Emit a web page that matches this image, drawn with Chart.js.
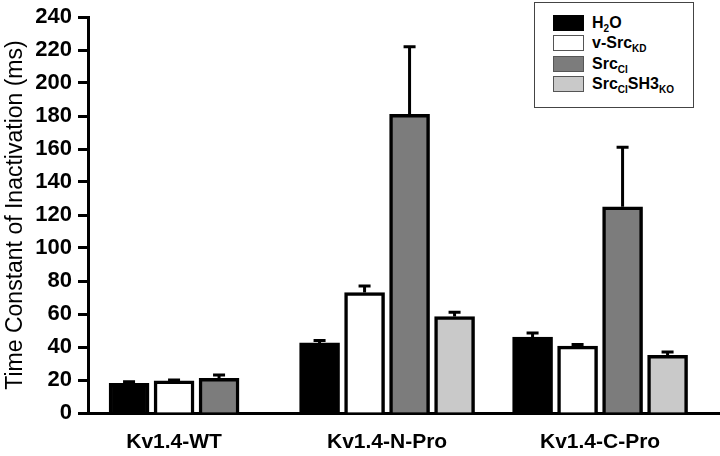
<!DOCTYPE html>
<html>
<head>
<meta charset="utf-8">
<script src="https://cdn.jsdelivr.net/npm/chart.js@4.4.0/dist/chart.umd.min.js"></script>
<style>
  html, body { margin: 0; padding: 0; background: #fff; }
  #wrap { position: relative; width: 720px; height: 456px; }
  #legend {
    position: absolute; left: 534px; top: 2px; width: 160px; height: 106px;
    box-sizing: border-box; border: 1.5px solid #444; background: #fff;
    font: bold 16px "Liberation Sans", Arial, sans-serif; color: #000;
  }
  #legend .item { position: absolute; left: 18px; height: 16px; display: flex; align-items: center; white-space: nowrap; }
  #legend .box { width: 31px; height: 16px; box-sizing: border-box; border: 1.5px solid #555; margin-right: 8px; }
  #legend sub { font-size: 10px; vertical-align: -4px; line-height: 0; }
</style>
</head>
<body>
<div id="wrap">
  <canvas id="myChart" width="720" height="456"></canvas>
  <div id="legend"></div>
</div>
<script>
var categories = ['Kv1.4-WT', 'Kv1.4-N-Pro', 'Kv1.4-C-Pro'];
var seriesNames = ['H2O', 'v-SrcKD', 'SrcCI', 'SrcCISH3KO'];
var legendLabels = ['H<sub>2</sub>O', 'v-Src<sub>KD</sub>', 'Src<sub>CI</sub>', 'Src<sub>CI</sub>SH3<sub>KO</sub>'];

// mean values (ms)
var h2o        = [18, 42.5, 46];
var vSrcKD     = [19.5, 73, 40.5];
var srcCI      = [21, 181, 125];
var srcCISH3KO = [null, 58.5, 35];

// error (upper only)
var h2oErr        = [1, 1.5, 2.5];
var vSrcKDErr     = [0.5, 4, 1];
var srcCIErr      = [2, 41, 36];
var srcCISH3KOErr = [null, 2.5, 2];

var colors = ['#000000', '#ffffff', '#7c7c7c', '#c9c9c9'];
var values = [h2o, vSrcKD, srcCI, srcCISH3KO];
var errors = [h2oErr, vSrcKDErr, srcCIErr, srcCISH3KOErr];

var fontFamily = '"Liberation Sans", Arial, sans-serif';

/* error bars: stem + cap above each bar */
var errorBars = {
  id: 'errorBars',
  afterDatasetsDraw: function (chart) {
    var ctx = chart.ctx;
    var yScale = chart.scales.y;
    ctx.save();
    ctx.strokeStyle = '#000';
    ctx.lineWidth = 3;
    chart.data.datasets.forEach(function (ds, i) {
      chart.getDatasetMeta(i).data.forEach(function (bar, j) {
        var v = ds.data[j].y, e = ds.errors[j];
        if (v == null || e == null) return;
        var top = yScale.getPixelForValue(v + e);
        ctx.beginPath();
        ctx.moveTo(bar.x, bar.y);
        ctx.lineTo(bar.x, top);
        ctx.moveTo(bar.x - 6, top);
        ctx.lineTo(bar.x + 6, top);
        ctx.stroke();
      });
    });
    ctx.restore();
  }
};

var datasets = seriesNames.map(function (name, i) {
  return {
    label: name,
    data: categories.map(function (c, k) { return { x: k, y: values[i][k] }; }),
    errors: errors[i],
    backgroundColor: colors[i],
    borderColor: '#000',
    borderWidth: 3.5,
    barThickness: 45,
    maxBarThickness: 40,
    skipNull: true
  };
});

var ctx = document.getElementById('myChart').getContext('2d');
var myChart = new Chart(ctx, {
  type: 'bar',
  data: { datasets: datasets },
  plugins: [errorBars],
  options: {
    responsive: false,
    animation: false,
    devicePixelRatio: 1,
    layout: { padding: { top: 15, right: 0, bottom: 0, left: 0 } },
    plugins: { legend: { display: false }, tooltip: { enabled: false } },
    scales: {
      x: {
        type: 'linear',
        min: -0.404,
        max: 2.563,
        offset: false,
        grid: { display: false, drawTicks: false },
        border: { color: '#000', width: 3 },
        afterBuildTicks: function (s) { s.ticks = categories.map(function (c, k) { return { value: k }; }); },
        afterFit: function (s) { s.height = 43; },
        ticks: {
          autoSkip: false,
          maxRotation: 0,
          padding: 17,
          color: '#000',
          font: { family: fontFamily, size: 21, weight: 'bold' },
          callback: function (v) { return categories[v] || ''; }
        }
      },
      y: {
        min: 0,
        max: 240,
        grid: { drawOnChartArea: false, drawTicks: true, tickLength: 10, tickWidth: 3, tickColor: '#000' },
        border: { color: '#000', width: 3 },
        afterFit: function (s) { s.width = 88; },
        ticks: {
          stepSize: 20,
          padding: 6,
          color: '#000',
          font: { family: fontFamily, size: 22, weight: 'bold', lineHeight: 1 }
        },
        title: {
          display: true,
          text: 'Time Constant of Inactivation (ms)',
          color: '#000',
          font: { family: fontFamily, size: 23 },
          padding: { top: 2, bottom: 0 }
        }
      }
    }
  }
});

/* legend with subscripts */
var legend = document.getElementById('legend');
legendLabels.forEach(function (html, i) {
  var item = document.createElement('div');
  item.className = 'item';
  item.style.top = (11.5 + i * 20.6) + 'px';
  var box = document.createElement('span');
  box.className = 'box';
  box.style.background = colors[i];
  if (i === 0) box.style.borderColor = '#000';
  var txt = document.createElement('span');
  txt.innerHTML = html;
  item.appendChild(box);
  item.appendChild(txt);
  legend.appendChild(item);
});
</script>
</body>
</html>
